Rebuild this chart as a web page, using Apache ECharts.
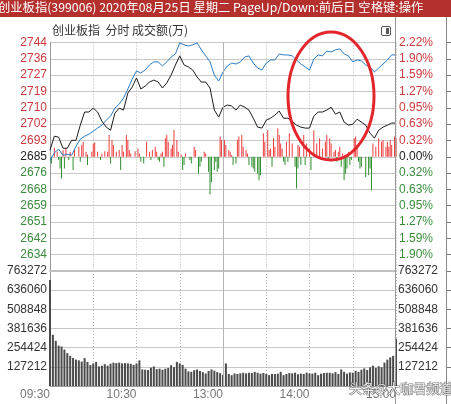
<!DOCTYPE html>
<html>
<head>
<meta charset="utf-8">
<style>
    html, body { margin: 0; padding: 0; background: #fff; }
    #chart { width: 451px; height: 404px; }
</style>
<script src="https://cdn.jsdelivr.net/npm/echarts/dist/echarts.min.js"></script>
</head>
<body>
<div id="chart"></div>
<script>
    const prevClose = 2685
    const priceStep = 8.43
    // bottom to top
    const priceTicks = ['', '2634', '2642', '2651', '2659', '2668', '2676', '2685', '2693', '2702', '2710', '2719', '2727', '2736', '2744']
    const pctTicks = ['', '1.90%', '1.59%', '1.27%', '0.95%', '0.63%', '0.32%', '0.00%', '0.32%', '0.63%', '0.95%', '1.27%', '1.59%', '1.90%', '2.22%']
    const volStep = 127212
    const volTicks = ['', '127212', '254424', '381636', '508848', '636060', '763272']
    const timeTickMinutes = [0, 60, 120, 180, 240]
    const timeTickLabels = ['09:30', '10:30', '13:00', '14:00', '15:00']

    // one point every 3 minutes from 09:30
    const indexLine = [
        2688.4, 2695.6, 2695.1, 2689.4, 2689.4, 2693.5, 2693.5, 2701.3, 2708.1, 2708.1,
        2710.1, 2708.1, 2703.4, 2700.3, 2698.7, 2707.5, 2710.1, 2709.1, 2717.9, 2721.0,
        2725.7, 2720.0, 2721.5, 2723.6, 2724.6, 2723.6, 2720.5, 2723.1, 2727.2, 2732.4,
        2737.1, 2732.4, 2731.4, 2729.8, 2726.2, 2723.6, 2723.6, 2720.5, 2709.1, 2705.5,
        2710.6, 2711.7, 2711.2, 2709.1, 2711.7, 2710.6, 2709.1, 2704.9, 2700.3, 2699.8,
        2703.9, 2704.9, 2706.5, 2708.6, 2704.9, 2704.9, 2703.4, 2701.3, 2700.3, 2699.8,
        2699.8, 2706.0, 2708.1, 2708.1, 2709.1, 2710.6, 2707.0, 2708.1, 2702.9, 2701.3,
        2701.8, 2704.4, 2702.9, 2701.3, 2697.2, 2694.6, 2698.7, 2700.3, 2701.3, 2702.4,
        2702.4
    ]
    const avgLine = [
        2683.2, 2687.0, 2688.9, 2685.8, 2686.3, 2685.8, 2690.4, 2694.1, 2695.6, 2696.7,
        2698.2, 2699.8, 2701.3, 2703.9, 2706.0, 2710.1, 2712.2, 2715.3, 2720.0, 2725.1,
        2729.3, 2728.3, 2729.8, 2732.4, 2734.0, 2734.0, 2731.9, 2734.0, 2736.5, 2738.1,
        2743.8, 2742.8, 2742.2, 2742.8, 2743.8, 2740.2, 2737.1, 2734.0, 2727.2, 2724.1,
        2728.8, 2731.9, 2733.4, 2732.9, 2734.0, 2736.5, 2737.1, 2733.4, 2730.8, 2729.8,
        2733.4, 2735.0, 2735.0, 2738.1, 2737.6, 2737.6, 2737.1, 2735.0, 2732.9, 2731.4,
        2729.8, 2735.5, 2737.6, 2737.1, 2739.6, 2739.1, 2740.2, 2740.7, 2738.1, 2737.1,
        2734.0, 2735.0, 2734.5, 2732.4, 2731.4, 2728.8, 2730.8, 2732.9, 2735.0, 2737.6,
        2737.6
    ]

    // turnover, one bar every 2 minutes
    const volume = [
        703000, 340000, 300000, 268000, 262000, 242000, 218000, 200000, 186000, 175000,
        170000, 162000, 185000, 160000, 139000, 150000, 160000, 130000, 135000, 145000,
        135000, 148000, 155000, 152000, 155000, 150000, 152000, 150000, 147000, 140000,
        150000, 170000, 110000, 108000, 106000, 122000, 130000, 112000, 115000, 108000,
        115000, 120000, 138000, 125000, 160000, 150000, 140000, 115000, 97000, 94000,
        105000, 110000, 100000, 92000, 83000, 100000, 110000, 102000, 92000, 85000,
        75000, 150000, 80000, 72000, 83000, 80000, 84000, 88000, 84000, 88000,
        86000, 94000, 88000, 82000, 86000, 80000, 72000, 80000, 80000, 82000,
        94000, 72000, 80000, 86000, 84000, 88000, 78000, 82000, 80000, 88000,
        84000, 82000, 88000, 72000, 82000, 86000, 88000, 88000, 84000, 92000,
        80000, 110000, 94000, 82000, 90000, 88000, 101000, 94000, 108000, 117000,
        106000, 124000, 135000, 120000, 131000, 124000, 155000, 175000, 190000, 200000,
        313000
    ]

    // red / green strength bars around the previous close (minute, points)
    const redMinutes = [3, 5, 9, 11, 14, 17, 20, 22, 23, 25, 26, 29, 30, 31, 33, 36, 38, 40, 41, 43, 44, 46, 48, 50, 51, 53, 54, 55, 56, 59,
        61, 62, 67, 69, 71, 73, 74, 77, 78, 80, 81, 82, 84, 85, 86, 88, 89, 91, 94, 100, 101, 107, 108, 118, 119,
        121, 122, 124, 125, 126, 130, 131, 133, 134, 136, 137, 148, 149, 151, 152, 153, 155, 156, 158, 159, 160, 161, 164, 166, 168,
        172, 173, 176, 178, 180, 183, 185, 187, 189, 191, 192, 194, 195, 197, 198, 200, 201, 203, 207, 211, 212, 213,
        224, 226, 228, 230, 231, 233, 234, 235, 236, 237, 239, 240]
    const redValues = [4.7, 2.6, 3.5, 4.3, 2.6, 3.5, 5.2, 6.1, 7.8, 2.6, 1.2, 2.6, 6.9, 7.4, 2.6, 1.7, 2.9, 2.6, 11.2, 8.6, 6.1, 2.6, 3.5, 6.1, 2.6, 11.2, 8.6, 3.5, 1.7, 2.9,
        4.3, 1.7, 7.8, 2.6, 3.5, 5.2, 2.6, 1.7, 2.6, 9.5, 11.2, 7.8, 4.3, 6.1, 13.8, 8.6, 2.6, 1.2, 1.7, 5.2, 3.5, 2.6, 1.7, 10.4, 8.6,
        8.6, 6.1, 3.5, 2.6, 0.9, 8.6, 10.4, 11.2, 5.2, 3.5, 1.7, 12.1, 7.8, 13.8, 3.5, 4.3, 9.5, 5.2, 14.7, 11.2, 6.9, 4.3, 7.8, 12.1, 6.9,
        6.1, 5.2, 11.2, 6.9, 4.3, 13.7, 6.9, 9.5, 4.3, 7.8, 11.2, 9.5, 6.9, 2.6, 3.5, 2.6, 5.2, 1.7, 2.6, 9.5, 10.4, 6.1,
        6.9, 5.2, 9.5, 7.8, 8.6, 5.2, 7.8, 5.2, 8.6, 6.1, 10.4, 9.5]
    const greenMinutes = [1, 6, 7, 8, 10, 13, 16, 21, 26, 35, 42, 49, 63, 65, 70, 75, 76, 79, 92, 93, 97, 98, 103, 104, 105, 110, 111, 112, 114, 115, 116, 117,
        127, 129, 138, 140, 141, 142, 144, 145, 146, 154, 162, 163, 165, 170, 171, 172, 174, 177, 181, 188, 193, 199,
        202, 204, 205, 206, 208, 209, 214, 215, 216, 219, 221, 222, 223]
    const greenValues = [-3.5, -1.7, -6.1, -11.2, -6.1, -1.7, -6.9, -2.6, -4.3, -1.7, -3.5, -6.9, -2.6, -3.5, -1.7, -1.7, -2.6, -5.2, -6.9, -4.3, -1.7, -3.5, -8.6, -5.2, -2.6, -7.8, -19.5, -13.0, -6.9, -2.6, -7.8, -6.1,
        -4.3, -3.5, -4.3, -5.2, -6.1, -7.8, -8.6, -12.1, -9.5, -5.2, -2.6, -4.3, -2.6, -5.2, -16.4, -6.1, -4.3, -4.3, -6.9, -1.7, -1.7, -2.6,
        -5.2, -12.1, -8.6, -6.1, -4.3, -1.7, -2.6, -6.1, -5.2, -10.4, -9.5, -6.1, -17.3]

    const RED = '#cc3a3e'
    const GREEN = '#3b8c3b'
    const GRID_LINE = '#c8c8c8'
    const LABEL_FONT = '"Liberation Sans", Arial, sans-serif'
    const CJK_FONT = '"Noto Sans CJK SC", sans-serif'

    const priceMin = -7 * priceStep
    const priceMax = 7 * priceStep
    const priceIndex = v => Math.round((v - priceMin) / priceStep)
    const priceColor = v => {
        const i = priceIndex(v)
        return i > 7 ? RED : (i === 7 ? '#222' : GREEN)
    }

    const lineData = arr => arr.map((v, i) => [i * 3, +(v - prevClose).toFixed(2)])
    const pairs = (xs, ys) => xs.map((x, i) => [x, ys[i]])

    const chart = echarts.init(document.getElementById('chart'))

    const xBase = {
        type: 'value',
        min: 0,
        max: 240,
        interval: 30,
        axisTick: { show: false },
        splitLine: { show: true, lineStyle: { color: '#b4b4b4', type: [1, 2] } }
    }

    const option = {
        animation: false,
        backgroundColor: '#fff',
        grid: [
            { left: 50, right: 55, top: 42.5, height: 228.5 },
            { left: 50, right: 55, top: 271, height: 115 }
        ],
        xAxis: [
            Object.assign({}, xBase, {
                gridIndex: 0,
                axisLine: { show: true, onZero: false, lineStyle: { color: '#c0c0c0', width: 2 } },
                axisLabel: { show: false }
            }),
            Object.assign({}, xBase, {
                gridIndex: 1,
                axisLine: { show: true, onZero: false, lineStyle: { color: '#999' } },
                axisLabel: {
                    margin: 3,
                    align: 'right',
                    color: '#777',
                    fontSize: 12,
                    fontFamily: LABEL_FONT,
                    formatter: v => {
                        const i = timeTickMinutes.indexOf(v)
                        return i >= 0 ? timeTickLabels[i] : ''
                    }
                }
            })
        ],
        yAxis: [
            {
                gridIndex: 0,
                type: 'value',
                min: priceMin,
                max: priceMax,
                interval: priceStep,
                axisLine: { show: true, lineStyle: { color: '#999' } },
                axisTick: { show: false },
                splitLine: { show: true, lineStyle: { color: GRID_LINE } },
                axisLabel: {
                    margin: 3,
                    fontSize: 12,
                    fontFamily: LABEL_FONT,
                    color: priceColor,
                    formatter: v => priceTicks[priceIndex(v)] || ''
                }
            },
            {
                gridIndex: 0,
                type: 'value',
                position: 'right',
                min: priceMin,
                max: priceMax,
                interval: priceStep,
                axisLine: { show: false },
                axisTick: { show: false },
                splitLine: { show: false },
                axisLabel: {
                    margin: 3,
                    fontSize: 12,
                    fontFamily: LABEL_FONT,
                    color: priceColor,
                    formatter: v => pctTicks[priceIndex(v)] || ''
                }
            },
            {
                gridIndex: 0,
                type: 'value',
                position: 'right',
                offset: 51,
                min: priceMin,
                max: priceMax,
                interval: priceStep,
                axisLine: { show: false },
                axisTick: { show: true, length: 4, lineStyle: { color: '#777' } },
                splitLine: { show: false },
                axisLabel: { show: false }
            },
            {
                gridIndex: 1,
                type: 'value',
                min: 0,
                max: volStep * 6,
                interval: volStep,
                axisLine: { show: true, lineStyle: { color: '#999' } },
                axisTick: { show: false },
                splitLine: { show: true, lineStyle: { color: GRID_LINE } },
                axisLabel: {
                    margin: 3,
                    fontSize: 12,
                    fontFamily: LABEL_FONT,
                    color: '#333',
                    formatter: v => volTicks[Math.round(v / volStep)] || ''
                }
            },
            {
                gridIndex: 1,
                type: 'value',
                position: 'right',
                min: 0,
                max: volStep * 6,
                interval: volStep,
                axisLine: { show: false },
                axisTick: { show: false },
                splitLine: { show: false },
                axisLabel: {
                    margin: 2,
                    fontSize: 12,
                    fontFamily: LABEL_FONT,
                    color: '#333',
                    formatter: v => volTicks[Math.round(v / volStep)] || ''
                }
            },
            {
                gridIndex: 1,
                type: 'value',
                position: 'right',
                offset: 51,
                min: 0,
                max: volStep * 6,
                interval: volStep,
                axisLine: { show: false },
                axisTick: { show: true, length: 4, lineStyle: { color: '#777' } },
                splitLine: { show: false },
                axisLabel: { show: false }
            }
        ],
        series: [
            {
                name: 'red',
                type: 'bar',
                xAxisIndex: 0,
                yAxisIndex: 0,
                barWidth: 1,
                barGap: '-100%',
                silent: true,
                itemStyle: { color: '#ee3c3c' },
                data: pairs(redMinutes, redValues)
            },
            {
                name: 'green',
                type: 'bar',
                xAxisIndex: 0,
                yAxisIndex: 0,
                barWidth: 1,
                barGap: '-100%',
                silent: true,
                itemStyle: { color: '#2f8f2f' },
                data: pairs(greenMinutes, greenValues)
            },
            {
                name: 'avg',
                type: 'line',
                xAxisIndex: 0,
                yAxisIndex: 0,
                showSymbol: false,
                silent: true,
                lineStyle: { color: '#2a7cc6', width: 1 },
                data: lineData(avgLine)
            },
            {
                name: 'index',
                type: 'line',
                xAxisIndex: 0,
                yAxisIndex: 0,
                showSymbol: false,
                silent: true,
                lineStyle: { color: '#1c1c1c', width: 1 },
                data: lineData(indexLine),
                markLine: {
                    silent: true,
                    symbol: 'none',
                    label: { show: false },
                    lineStyle: { color: '#b4b4b4', type: 'solid', width: 1 },
                    data: [{ xAxis: 120 }]
                }
            },
            {
                name: 'volume',
                type: 'bar',
                xAxisIndex: 1,
                yAxisIndex: 3,
                barWidth: 2,
                silent: true,
                itemStyle: { color: '#4b4b4b' },
                data: volume.map((v, i) => [i * 2, v]),
                markLine: {
                    silent: true,
                    symbol: 'none',
                    label: { show: false },
                    lineStyle: { color: '#b4b4b4', type: 'solid', width: 1 },
                    data: [{ xAxis: 120 }]
                }
            }
        ],
        graphic: [
            { type: 'rect', shape: { x: 0, y: 0, width: 451, height: 17 }, style: { fill: '#b3302d' }, z: 10 },
            {
                type: 'text', x: -2, y: 1.5, z: 11,
                style: {
                    text: '创业板指(399006) 2020年08月25日 星期二 PageUp/Down:前后日 空格键:操作',
                    fill: '#fff', font: '12.3px ' + CJK_FONT
                }
            },
            {
                type: 'text', x: 52, y: 24.5, z: 11,
                style: { text: '创业板指  分时 成交额(万)', fill: '#333', font: '12px ' + CJK_FONT }
            },
            { type: 'rect', shape: { x: 381.5, y: 26.5, width: 9, height: 9, r: 1.5 }, style: { fill: 'none', stroke: '#555', lineWidth: 1 }, z: 11 },
            { type: 'rect', shape: { x: 386, y: 28, width: 3, height: 6 }, style: { fill: '#555' }, z: 11 },
            { type: 'line', shape: { x1: 395.5, y1: 17, x2: 395.5, y2: 404 }, style: { stroke: '#999', lineWidth: 1 }, z: 5 },
            { type: 'line', shape: { x1: 446.5, y1: 17, x2: 446.5, y2: 404 }, style: { stroke: '#888', lineWidth: 1 }, z: 5 },
            {
                type: 'ellipse', z: 50,
                shape: { cx: 331, cy: 96, rx: 43, ry: 64 },
                style: { fill: 'none', stroke: '#e2262c', lineWidth: 3 }
            },
            {
                type: 'text', x: 349, y: 382, z: 60,
                style: {
                    text: '头条@大咖君频道', font: '13px ' + CJK_FONT,
                    fill: 'rgba(255,255,255,0.9)', stroke: 'rgba(70,70,70,0.75)', lineWidth: 1
                }
            }
        ]
    }

    chart.setOption(option)
</script>
</body>
</html>
